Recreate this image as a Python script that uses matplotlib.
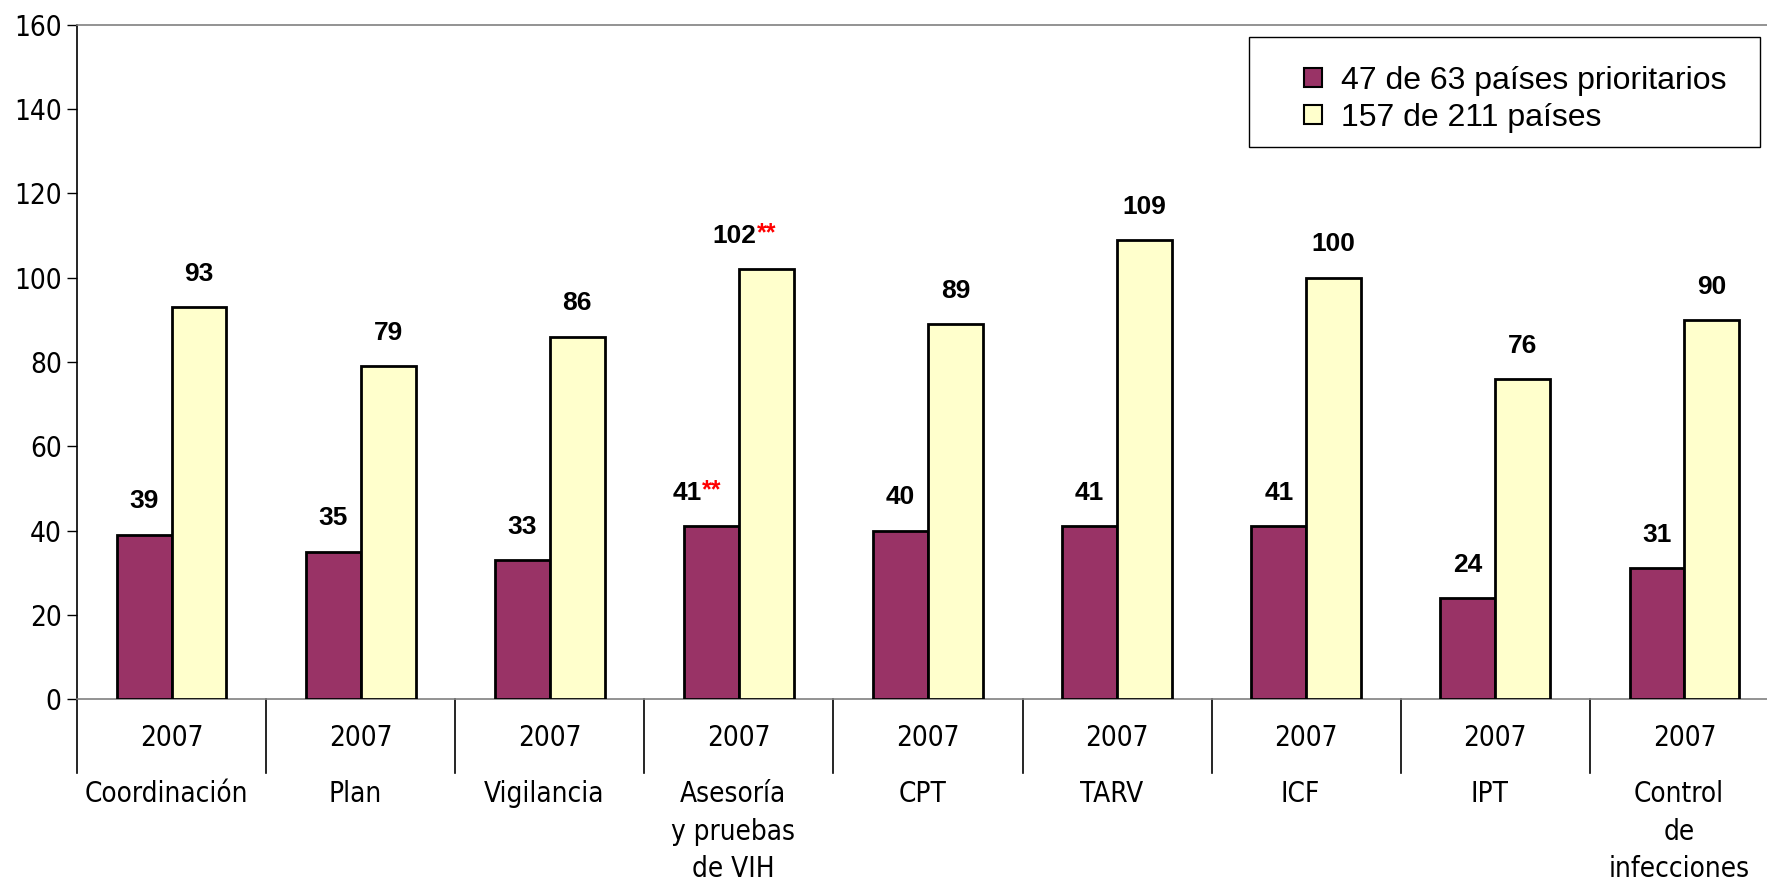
import matplotlib
matplotlib.use("Agg")
import matplotlib.pyplot as plt
from matplotlib import font_manager
from matplotlib.patches import Patch, Rectangle
import numpy as np

# Chart data
categories = ["Coordinación", "Plan", "Vigilancia", "Asesoría\ny pruebas\nde VIH",
              "CPT", "TARV", "ICF", "IPT", "Control\nde\ninfecciones"]
years = ["2007"] * 9
priority = [39, 35, 33, 41, 40, 41, 41, 24, 31]
all_countries = [93, 79, 86, 102, 89, 109, 100, 76, 90]
starred = [False, False, False, True, False, False, False, False, False]
series_names = ["47 de 63 países prioritarios", "157 de 211 países"]

plt.rcParams['font.family'] = ['Liberation Sans', 'DejaVu Sans']

# look for a narrow face for the axis texts (the original uses Arial Narrow)
narrow = font_manager.FontProperties(family="Liberation Sans", size=20)
names = {f.name for f in font_manager.fontManager.ttflist}
if "Liberation Sans Narrow" in names:
    narrow = font_manager.FontProperties(family="Liberation Sans Narrow", size=22)
else:
    for f in font_manager.fontManager.ttflist:
        if f.fname.endswith("DejaVuSansCondensed.ttf"):
            narrow = font_manager.FontProperties(fname=f.fname, size=20)
            break
narrow_size = narrow.get_size()

W, H = 1767, 884
fig = plt.figure(figsize=(W / 100, H / 100), dpi=100)
ax = fig.add_axes([77 / W, 185 / H, (1779 - 77) / W, (699 - 25) / H])

x = np.arange(len(categories))
bw = 0.29
ax.bar(x - bw / 2, priority, bw, color="#993366", edgecolor="black", linewidth=2, zorder=3)
ax.bar(x + bw / 2, all_countries, bw, color="#FFFFCC", edgecolor="black", linewidth=2, zorder=3)

ax.set_xlim(-0.5, len(categories) - 0.5)
ax.set_ylim(0, 160)
ax.set_yticks(range(0, 161, 20))
ax.tick_params(axis="y", length=7, width=1, pad=4)
for lab in ax.get_yticklabels():
    lab.set_fontproperties(narrow)
ax.set_xticks([])

ax.spines["left"].set_color("black")
ax.spines["bottom"].set_color("#808080")
ax.spines["top"].set_color("#808080")
ax.spines["right"].set_visible(False)
for s in ax.spines.values():
    s.set_linewidth(1.2)

# value labels
def label(xpos, val, star):
    if star:
        ax.annotate(str(val), (xpos, val), xytext=(-7, 24), textcoords="offset points",
                    ha="right", va="center", fontsize=19, fontweight="bold")
        ax.annotate("**", (xpos, val), xytext=(-7, 26), textcoords="offset points",
                    ha="left", va="center", fontsize=18, fontweight="bold", color="red")
    else:
        ax.annotate(str(val), (xpos, val), xytext=(0, 24), textcoords="offset points",
                    ha="center", va="center", fontsize=19, fontweight="bold")

for i in range(len(categories)):
    label(x[i] - bw / 2, priority[i], starred[i])
    label(x[i] + bw / 2, all_countries[i], starred[i])

# multi-level category axis
trans = ax.get_xaxis_transform()
for b in np.arange(len(categories) + 1) - 0.5:
    ax.plot([b, b], [0, -0.11], transform=trans, color="black", lw=1.2, clip_on=False)
line_sp = 38.5 / (0.96 * narrow_size * 100 / 72)
for i in range(len(categories)):
    ax.text(x[i], -0.058, years[i], transform=trans, ha="center", va="center",
            fontproperties=narrow)
    ax.text(x[i] - 0.03, -0.12, categories[i], transform=trans, ha="center", va="top",
            fontproperties=narrow, linespacing=line_sp)

# legend with its own box
fig.patches.append(Rectangle((1249 / W, 1 - 147 / H), (1760 - 1249) / W, (147 - 37) / H,
                             transform=fig.transFigure, fill=False, edgecolor="black", lw=1))
handles = [Patch(facecolor="#993366", edgecolor="black", lw=1.5),
           Patch(facecolor="#FFFFCC", edgecolor="black", lw=1.5)]
fig.legend(handles, series_names, loc="upper left", bbox_to_anchor=(1288 / W, 1 - 50 / H),
           frameon=False, fontsize=23, handlelength=0.55, handleheight=0.55,
           handletextpad=0.6, labelspacing=0.22, borderpad=0)

fig.savefig("out.png", dpi=100)
